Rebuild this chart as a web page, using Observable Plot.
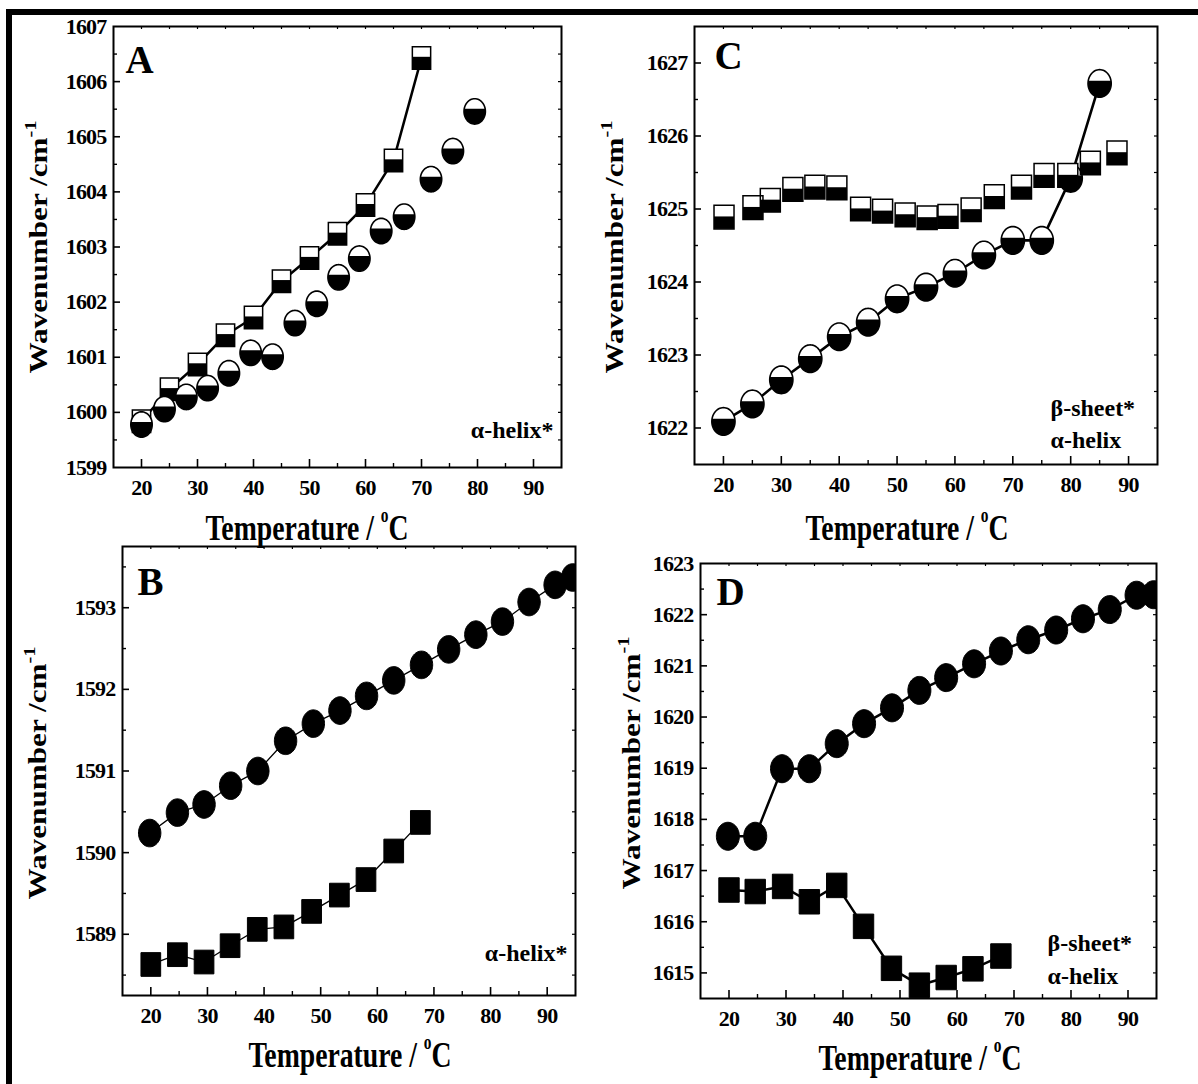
<!DOCTYPE html>
<html>
<head>
<meta charset="utf-8">
<script src="https://cdn.jsdelivr.net/npm/d3@7"></script>
<script src="https://cdn.jsdelivr.net/npm/@observablehq/plot@0.6"></script>
<style>
html,body{margin:0;padding:0;background:#fff;}
#page{position:relative;width:1198px;height:1084px;overflow:hidden;background:#fff;}
#page > svg{position:absolute;left:0;top:0;}
#page g[aria-label="x-axis tick label"] text,
#page g[aria-label="y-axis tick label"] text{letter-spacing:-0.8px;}
</style>
</head>
<body>
<div id="page"></div>
<script>
// ---------- data ----------
const xTicks = [20, 30, 40, 50, 60, 70, 80, 90];
const xMinorTicks = [25, 35, 45, 55, 65, 75, 85];
const xTopTicks = [20, 25, 30, 35, 40, 45, 50, 55, 60, 65, 70, 75, 80, 85, 90];

// Panel A
const yTicksA = [1599, 1600, 1601, 1602, 1603, 1604, 1605, 1606, 1607];
const tempA_sq = [20, 25, 30, 35, 40, 45, 50, 55, 60, 65, 70];
const waveA_sq = [1599.84, 1600.42, 1600.87, 1601.40, 1601.72, 1602.38, 1602.80, 1603.24, 1603.76, 1604.57, 1606.43];
const tempA_ci = [20, 24.1, 28, 31.8, 35.6, 39.5, 43.4, 47.4, 51.3, 55.2, 58.9, 62.8, 66.9, 71.7, 75.6, 79.5];
const waveA_ci = [1599.78, 1600.06, 1600.28, 1600.44, 1600.71, 1601.08, 1601.01, 1601.62, 1601.97, 1602.45, 1602.79, 1603.29, 1603.55, 1604.23, 1604.74, 1605.46];

// Panel C
const yTicksC = [1622, 1623, 1624, 1625, 1626, 1627];
const tempC_sq = [20.1, 25.1, 28.1, 32.0, 35.8, 39.6, 43.7, 47.5, 51.4, 55.2, 58.8, 62.8, 66.8, 71.5, 75.4, 79.5, 83.4, 88.0];
const waveC_sq = [1624.89, 1625.02, 1625.12, 1625.27, 1625.30, 1625.29, 1625.00, 1624.97, 1624.92, 1624.88, 1624.90, 1624.99, 1625.17, 1625.30, 1625.46, 1625.46, 1625.63, 1625.77];
const tempC_ci = [20, 25, 30, 35, 40, 45, 50, 55, 60, 65, 70, 75, 80, 85];
const waveC_ci = [1622.09, 1622.33, 1622.66, 1622.95, 1623.25, 1623.45, 1623.77, 1623.93, 1624.12, 1624.37, 1624.57, 1624.57, 1625.42, 1626.72];

// Panel B
const yTicksB = [1589, 1590, 1591, 1592, 1593];
const tempB_ci = [19.8, 24.7, 29.4, 34.1, 38.9, 43.8, 48.7, 53.4, 58.1, 62.9, 67.8, 72.6, 77.4, 82.1, 86.8, 91.4, 94.5];
const waveB_ci = [1590.24, 1590.49, 1590.59, 1590.82, 1591.00, 1591.37, 1591.58, 1591.74, 1591.92, 1592.11, 1592.30, 1592.49, 1592.67, 1592.83, 1593.07, 1593.28, 1593.37];
const tempB_sq = [20, 24.7, 29.4, 34.0, 38.8, 43.5, 48.4, 53.3, 58.0, 62.9, 67.6];
const waveB_sq = [1588.63, 1588.75, 1588.66, 1588.86, 1589.06, 1589.09, 1589.28, 1589.48, 1589.67, 1590.02, 1590.37];

// Panel D
const yTicksD = [1615, 1616, 1617, 1618, 1619, 1620, 1621, 1622, 1623];
const tempD_ci = [19.8, 24.6, 29.3, 34.1, 38.9, 43.7, 48.6, 53.4, 58.1, 63.0, 67.7, 72.5, 77.4, 82.1, 86.8, 91.5, 94.5];
const waveD_ci = [1617.67, 1617.67, 1618.99, 1618.99, 1619.48, 1619.87, 1620.18, 1620.52, 1620.77, 1621.04, 1621.29, 1621.51, 1621.70, 1621.92, 1622.10, 1622.38, 1622.39];
const tempD_sq = [20, 24.6, 29.4, 34.1, 38.9, 43.6, 48.5, 53.4, 58.1, 62.8, 67.7];
const waveD_sq = [1616.62, 1616.59, 1616.69, 1616.39, 1616.71, 1615.91, 1615.09, 1614.76, 1614.91, 1615.08, 1615.33];

// texts
const panelLetters = ["A", "B", "C", "D"];
const noteA = "α-helix*";
const noteB = "α-helix*";
const noteC = "β-sheet*\nα-helix";
const noteD = "β-sheet*\nα-helix";
const yLabelMain = "Wavenumber /cm";
const yLabelSup = "-1";
const xLabelMain = "Temperature / ";
const xLabelSup = "o";
const xLabelEnd = "C";

// ---------- helpers ----------
const W = 1198, H = 1084;
const FONT = "Liberation Serif, Times New Roman, serif";
const rows = (t, w) => t.map((d, i) => ({t: d, w: w[i]}));

function ellipseSym(rx, ry) {
  return {draw(ctx) {
    const n = 60;
    for (let i = 0; i < n; i++) {
      const a = 2 * Math.PI * i / n;
      const x = rx * Math.cos(a), y = ry * Math.sin(a);
      i ? ctx.lineTo(x, y) : ctx.moveTo(x, y);
    }
    ctx.closePath();
  }};
}
function ellipseLower(rx, ry, f) {
  return {draw(ctx) {
    const t0 = Math.asin(f), n = 40;
    for (let i = 0; i <= n; i++) {
      const a = t0 + (Math.PI - 2 * t0) * i / n;
      const x = rx * Math.cos(a), y = ry * Math.sin(a);
      i ? ctx.lineTo(x, y) : ctx.moveTo(x, y);
    }
    ctx.closePath();
  }};
}
function rectSym(w, h) {
  return {draw(ctx) { ctx.rect(-w / 2, -h / 2, w, h); }};
}
function rectLower(w, h, f) {
  return {draw(ctx) { const y0 = f * h / 2; ctx.rect(-w / 2, y0, w, h / 2 - y0); }};
}

function halfMarkers(data, full, lower, sw) {
  return [
    Plot.dot(data, {x: "t", y: "w", symbol: full, fill: "white", stroke: "none", clip: "frame"}),
    Plot.dot(data, {x: "t", y: "w", symbol: lower, fill: "black", stroke: "none", clip: "frame"}),
    Plot.dot(data, {x: "t", y: "w", symbol: full, fill: "none", stroke: "black", strokeWidth: sw, clip: "frame"})
  ];
}
function solidMarkers(data, sym) {
  return Plot.dot(data, {x: "t", y: "w", symbol: sym, fill: "black", stroke: "black", strokeWidth: 1, clip: "frame"});
}
function dataLine(data, sw) {
  return Plot.line(data, {x: "t", y: "w", stroke: "black", strokeWidth: sw, clip: "frame"});
}

function panel(cfg) {
  const {mL, mR, mT, mB, yDom, yTicks, dataMarks, letter, ldx, ldy, note, noteOpts} = cfg;
  const xDom = [15, 95];
  const fw = W - mL - mR, fh = H - mT - mB;
  const yMinor = [];
  for (let v = Math.ceil(yDom[0] * 2) / 2; v <= yDom[1]; v += 0.5) {
    if (!yTicks.includes(v) && v > yDom[0] && v < yDom[1]) yMinor.push(v);
  }
  const yAll = yTicks.concat(yMinor).filter(v => v > yDom[0] && v < yDom[1]);
  const tickFont = {fontFamily: FONT, fontSize: 22, fontWeight: "bold"};
  return Plot.plot({
    width: W, height: H,
    marginLeft: mL, marginRight: mR, marginTop: mT, marginBottom: mB,
    x: {domain: xDom},
    y: {domain: yDom},
    style: {background: "transparent", overflow: "visible"},
    marks: [
      // inward ticks
      Plot.tickX(xTicks, {x: d => d, insetTop: fh - 8, strokeWidth: 1.6}),
      Plot.tickX(xMinorTicks, {x: d => d, insetTop: fh - 4, strokeWidth: 1.4}),
      Plot.tickX(xTopTicks, {x: d => d, insetBottom: fh - 3, strokeWidth: 1.2}),
      Plot.tickY(yTicks.filter(v => v > yDom[0] && v < yDom[1]), {y: d => d, insetRight: fw - 7, strokeWidth: 1.6}),
      Plot.tickY(yMinor, {y: d => d, insetRight: fw - 4, strokeWidth: 1.4}),
      Plot.tickY(yAll, {y: d => d, insetLeft: fw - 3, strokeWidth: 1.2}),
      ...dataMarks,
      Plot.frame({stroke: "black", strokeWidth: 2}),
      Plot.axisX({ticks: xTicks, tickSize: 0, tickPadding: 12, label: null, tickFormat: d => String(d), ...tickFont}),
      Plot.axisY({ticks: yTicks, tickSize: 0, tickPadding: 7, label: null, tickFormat: d => String(d), ...tickFont}),
      Plot.text([letter], {text: d => d, frameAnchor: "top-left", textAnchor: "start", lineAnchor: "top",
        dx: ldx, dy: ldy, fontSize: 39, fontWeight: "bold", fontFamily: FONT}),
      Plot.text([note], {text: d => d, fontSize: 24, fontWeight: "bold", fontFamily: FONT, lineAnchor: "bottom", ...noteOpts})
    ]
  });
}

const page = document.getElementById("page");

// Panel A
page.appendChild(panel({
  mL: 113, mR: 637, mT: 26, mB: 617, yDom: [1599, 1607], yTicks: yTicksA,
  dataMarks: [
    dataLine(rows(tempA_sq, waveA_sq), 2.5),
    ...halfMarkers(rows(tempA_sq, waveA_sq), rectSym(18.3, 22.5), rectLower(18.3, 22.5, -0.1), 1.5),
    ...halfMarkers(rows(tempA_ci, waveA_ci), ellipseSym(10.7, 12.7), ellipseLower(10.7, 12.7, -0.2), 1.6)
  ],
  letter: panelLetters[0], ldx: 12, ldy: 19,
  note: noteA, noteOpts: {frameAnchor: "bottom-right", textAnchor: "end", dx: -8, dy: -30}
}));

// Panel C
page.appendChild(panel({
  mL: 694, mR: 41, mT: 26, mB: 620, yDom: [1621.5, 1627.5], yTicks: yTicksC,
  dataMarks: [
    dataLine(rows(tempC_ci, waveC_ci), 2.6),
    ...halfMarkers(rows(tempC_ci, waveC_ci), ellipseSym(11.6, 13.8), ellipseLower(11.6, 13.8, -0.2), 1.6),
    ...halfMarkers(rows(tempC_sq, waveC_sq), rectSym(20, 23.7), rectLower(20, 23.7, -0.05), 1.5)
  ],
  letter: panelLetters[2], ldx: 20, ldy: 15,
  note: noteC, noteOpts: {frameAnchor: "bottom-right", textAnchor: "start", dx: -107, dy: -17, lineHeight: 1.3}
}));

// Panel B
page.appendChild(panel({
  mL: 122, mR: 623, mT: 546, mB: 89, yDom: [1588.25, 1593.75], yTicks: yTicksB,
  dataMarks: [
    dataLine(rows(tempB_ci, waveB_ci), 1.3),
    dataLine(rows(tempB_sq, waveB_sq), 1.3),
    solidMarkers(rows(tempB_ci, waveB_ci), ellipseSym(11.2, 13.8)),
    solidMarkers(rows(tempB_sq, waveB_sq), rectSym(19.7, 23.7))
  ],
  letter: panelLetters[1], ldx: 15, ldy: 21,
  note: noteB, noteOpts: {frameAnchor: "bottom-right", textAnchor: "end", dx: -8, dy: -35}
}));

// Panel D
page.appendChild(panel({
  mL: 700, mR: 42, mT: 563, mB: 86, yDom: [1614.5, 1623], yTicks: yTicksD,
  dataMarks: [
    dataLine(rows(tempD_ci, waveD_ci), 2.5),
    dataLine(rows(tempD_sq, waveD_sq), 2.5),
    solidMarkers(rows(tempD_ci, waveD_ci), ellipseSym(11.5, 14)),
    solidMarkers(rows(tempD_sq, waveD_sq), rectSym(20.4, 24.5))
  ],
  letter: panelLetters[3], ldx: 16, ldy: 14,
  note: noteD, noteOpts: {frameAnchor: "bottom-right", textAnchor: "start", dx: -109, dy: -15, lineHeight: 1.35}
}));

// ---------- overlay: outer border and axis titles ----------
const ov = d3.select(page).append("svg")
  .attr("width", W).attr("height", H)
  .style("position", "absolute").style("left", 0).style("top", 0)
  .style("font-family", FONT).style("font-weight", "bold");

ov.append("rect").attr("x", 6).attr("y", 9).attr("width", W - 6).attr("height", 6).attr("fill", "black");
ov.append("rect").attr("x", 6).attr("y", 9).attr("width", 6).attr("height", H - 9).attr("fill", "black");

const yTitles = [
  {bx: 47, cy: 247}, {bx: 623, cy: 247}, {bx: 46, cy: 773}, {bx: 640, cy: 763}
];
for (const p of yTitles) {
  const t = ov.append("text")
    .attr("transform", `translate(${p.bx},${p.cy}) rotate(-90) scale(1.2,1)`)
    .attr("text-anchor", "middle")
    .attr("font-size", 26);
  t.append("tspan").text(yLabelMain);
  t.append("tspan").attr("dy", -11).attr("font-size", 17).text(yLabelSup);
}

const xTitles = [
  {cx: 307, by: 540}, {cx: 907, by: 540}, {cx: 350, by: 1067}, {cx: 920, by: 1070}
];
for (const p of xTitles) {
  const t = ov.append("text")
    .attr("transform", `translate(${p.cx},${p.by}) scale(0.77,1)`)
    .attr("text-anchor", "middle")
    .attr("font-size", 36);
  t.append("tspan").text(xLabelMain);
  t.append("tspan").attr("dy", -18).attr("font-size", 20).text(xLabelSup);
  t.append("tspan").attr("dy", 18).text(xLabelEnd);
}
</script>
</body>
</html>
